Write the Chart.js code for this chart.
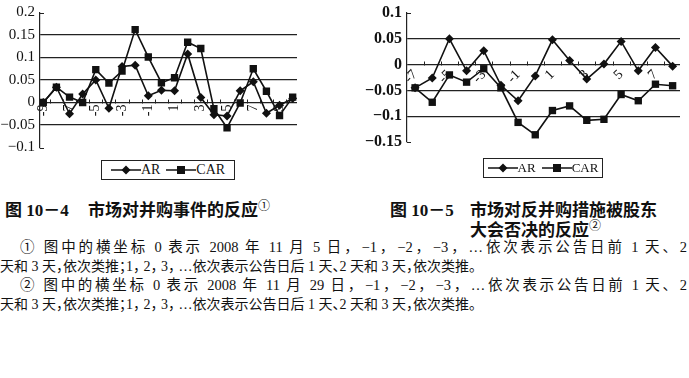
<!DOCTYPE html>
<html>
<head>
<meta charset="utf-8">
<script src="https://cdn.jsdelivr.net/npm/chart.js@4.4.0/dist/chart.umd.min.js"></script>
<style>
html, body { margin: 0; padding: 0; background: #fff; }
body { width: 689px; height: 378px; position: relative; overflow: hidden; color: #111;
       font-family: 'Liberation Serif', 'Noto Sans CJK SC', serif; }
.box { position: absolute; }
.legend { position: absolute; border: 1px solid #222; box-sizing: border-box; display: flex;
          align-items: center; justify-content: center; font-size: 14px; }
.legend .item { display: inline-flex; align-items: center; margin: 0 3px; }
.cap { position: absolute; font-weight: bold; font-size: 17px; line-height: 20px; white-space: nowrap; }
.note { position: absolute; font-size: 14px; line-height: 19px; white-space: nowrap; }
.halt { font-feature-settings: "halt"; }
.just { font-size: 14.5px; text-align: justify; text-align-last: justify; }
sup { font-size: 12px; font-weight: normal; vertical-align: 6px; line-height: 0; }
</style>
</head>
<body>
<div class="box" style="left:0;top:0;width:305px;height:160px"><canvas id="c1"></canvas></div>
<div class="box" style="left:340px;top:0;width:349px;height:160px"><canvas id="c2"></canvas></div>
<div class="legend" id="lg1" style="left:101px;top:160px;width:134px;height:20px"></div>
<div class="legend" id="lg2" style="left:483px;top:158px;width:120px;height:20px;font-size:13px"></div>

<div class="cap" style="left:5px;top:201px">图 10－4</div>
<div class="cap" style="left:88px;top:201px">市场对并购事件的反应<sup>①</sup></div>
<div class="cap" style="left:390px;top:201px">图 10－5</div>
<div class="cap" style="left:470px;top:201px">市场对反并购措施被股东</div>
<div class="cap" style="left:470px;top:221px">大会否决的反应<sup>②</sup></div>

<div class="note just" style="left:20px;top:238px;width:667px">① 图中的横坐标 0 表示 2008 年 11 月 5 日，−1，−2，−3，…依次表示公告日前 1 天、2</div>
<div class="note halt" style="left:0;top:257px">天和 3 天，依次类推；1， 2， 3， …依次表示公告日后 1 天、2 天和 3 天，依次类推。</div>
<div class="note just" style="left:20px;top:276px;width:667px">② 图中的横坐标 0 表示 2008 年 11 月 29 日，−1，−2，−3，…依次表示公告日前 1 天、2</div>
<div class="note halt" style="left:0;top:295px">天和 3 天，依次类推；1， 2， 3， …依次表示公告日后 1 天、2 天和 3 天，依次类推。</div>

<script>
// figure 10-4: days -9 .. 10 around 2008-11-05
var days1 = [-9, -8, -7, -6, -5, -4, -3, -2, -1, 0, 1, 2, 3, 4, 5, 6, 7, 8, 9, 10];
var ar1  = [0, 0.034, -0.025, 0.019, 0.05, -0.013, 0.08, 0.083, 0.015, 0.027,
            0.026, 0.108, 0.011, -0.027, -0.03, 0.026, 0.046, -0.024, -0.006, 0.009];
var car1 = [0, 0.034, 0.012, 0.0, 0.073, 0.043, 0.07, 0.162, 0.101, 0.044,
            0.055, 0.134, 0.12, -0.014, -0.056, -0.001, 0.075, 0.025, -0.029, 0.012];
var xLabels1 = [-9, -7, -5, -3, -1, 1, 3, 5, 7, 9];

// figure 10-5: days -7 .. 8 around 2008-11-29
var days2 = [-7, -6, -5, -4, -3, -2, -1, 0, 1, 2, 3, 4, 5, 6, 7, 8];
var ar2  = [-0.045, -0.026, 0.05, -0.012, 0.027, -0.04, -0.07, -0.022,
            0.048, 0.008, -0.028, 0.001, 0.045, -0.012, 0.033, -0.003];
var car2 = [-0.045, -0.073, -0.02, -0.034, -0.008, -0.045, -0.112, -0.136,
            -0.089, -0.08, -0.108, -0.106, -0.058, -0.07, -0.038, -0.041];
var xLabels2 = [-7, -5, -3, -1, 1, 3, 5, 7];

var seriesNames = ['AR', 'CAR'];

// small ticks on the zero line between days, and end ticks on the value axis
var axisMarks = {
    id: 'axisMarks',
    afterDraw: function (chart) {
        var xs = chart.scales.x, ys = chart.scales.y, ctx = chart.ctx, area = chart.chartArea;
        var days = chart.data.datasets[0].data.map(function (p) { return p.x; });
        var y0 = Math.round(ys.getPixelForValue(0)) + 0.5;
        ctx.save();
        ctx.strokeStyle = '#222';
        ctx.lineWidth = 1;
        ctx.beginPath();
        for (var i = 0; i <= days.length; i++) {
            var v = i === 0 ? days[0] - 0.5 : days[i - 1] + 0.5;
            var px = Math.round(xs.getPixelForValue(v)) + 0.5;
            if (px <= area.left + 1 || px >= area.right) continue;
            ctx.moveTo(px, y0);
            ctx.lineTo(px, y0 - 4);
        }
        [ys.min, ys.max].forEach(function (v) {
            var py = Math.round(ys.getPixelForValue(v)) + 0.5;
            ctx.moveTo(area.left, py);
            ctx.lineTo(area.left + 4, py);
        });
        ctx.stroke();
        ctx.restore();
    }
};

function points(days, vals) {
    return days.map(function (d, i) { return { x: d, y: vals[i] }; });
}

function makeChart(id, days, ar, car, o) {
    var grey = '#222';
    return new Chart(document.getElementById(id).getContext('2d'), {
        type: 'line',
        data: {
            datasets: [{
                label: seriesNames[0],
                data: points(days, ar),
                borderColor: '#111',
                backgroundColor: '#111',
                borderWidth: 1.6,
                pointStyle: 'rectRot',
                pointRadius: 4.5,
                pointBorderWidth: 0
            }, {
                label: seriesNames[1],
                data: points(days, car),
                borderColor: '#111',
                backgroundColor: '#111',
                borderWidth: 1.6,
                pointStyle: 'rect',
                pointRadius: 5.2,
                pointBorderWidth: 0
            }]
        },
        options: {
            responsive: true,
            maintainAspectRatio: false,
            animation: false,
            layout: { padding: o.padding },
            plugins: { legend: { display: false }, tooltip: { enabled: false } },
            scales: {
                x: {
                    type: 'linear',
                    position: { y: 0 },
                    min: o.xMin,
                    max: o.xMax,
                    afterBuildTicks: function (s) {
                        s.ticks = o.xLabels.map(function (v) { return { value: v }; });
                    },
                    grid: { display: false, drawTicks: false },
                    border: { display: false },
                    ticks: {
                        autoSkip: false,
                        minRotation: o.rot,
                        maxRotation: o.rot,
                        padding: 2,
                        color: '#111',
                        font: { family: 'Liberation Serif', size: 14 },
                        callback: function (v) { return String(v); }
                    }
                },
                y: {
                    min: o.yMin,
                    max: o.yMax,
                    afterFit: function (s) { s.width = o.yWidth; },
                    grid: {
                        drawTicks: false,
                        lineWidth: 1.2,
                        color: function (c) {
                            if (!c.tick) return grey;
                            var v = c.tick.value;
                            return (Math.abs(v - o.yMin) < 1e-9 || Math.abs(v - o.yMax) < 1e-9) ? 'rgba(0,0,0,0)' : grey;
                        }
                    },
                    border: { color: grey, width: 1.2 },
                    ticks: {
                        stepSize: 0.05,
                        padding: 5,
                        color: '#111',
                        font: { family: 'Liberation Serif', size: o.ySize, weight: o.yWeight, lineHeight: 1 },
                        callback: function (v) {
                            return String(parseFloat(v.toFixed(2))).replace('-', '\u2212');
                        }
                    }
                }
            }
        },
        plugins: [axisMarks]
    });
}

function buildLegend(el, chart) {
    chart.data.datasets.forEach(function (ds) {
        var item = document.createElement('span');
        item.className = 'item';
        var mk = ds.pointStyle === 'rect'
            ? '<rect x="11" y="1" width="8" height="8" fill="#111"/>'
            : '<polygon points="15,0.5 19.5,5 15,9.5 10.5,5" fill="#111"/>';
        item.innerHTML = '<svg width="30" height="10"><line x1="0" y1="5" x2="30" y2="5" stroke="#111" stroke-width="1.5"/>'
            + mk + '</svg><span>' + ds.label + '</span>';
        el.appendChild(item);
    });
}

var chart1 = makeChart('c1', days1, ar1, car1, {
    xMin: -9.25, xMax: 10.33, xLabels: xLabels1, rot: 90,
    yMin: -0.1, yMax: 0.2, yWidth: 40, yWeight: 'normal', ySize: 15,
    padding: { left: 0, right: 8, top: 7, bottom: 10 }
});
var chart2 = makeChart('c2', days2, ar2, car2, {
    xMin: -7.47, xMax: 8.43, xLabels: xLabels2, rot: 45,
    yMin: -0.15, yMax: 0.1, yWidth: 67, yWeight: 'bold', ySize: 16,
    padding: { left: 0, right: 9, top: 9, bottom: 18 }
});
buildLegend(document.getElementById('lg1'), chart1);
buildLegend(document.getElementById('lg2'), chart2);
</script>
</body>
</html>
